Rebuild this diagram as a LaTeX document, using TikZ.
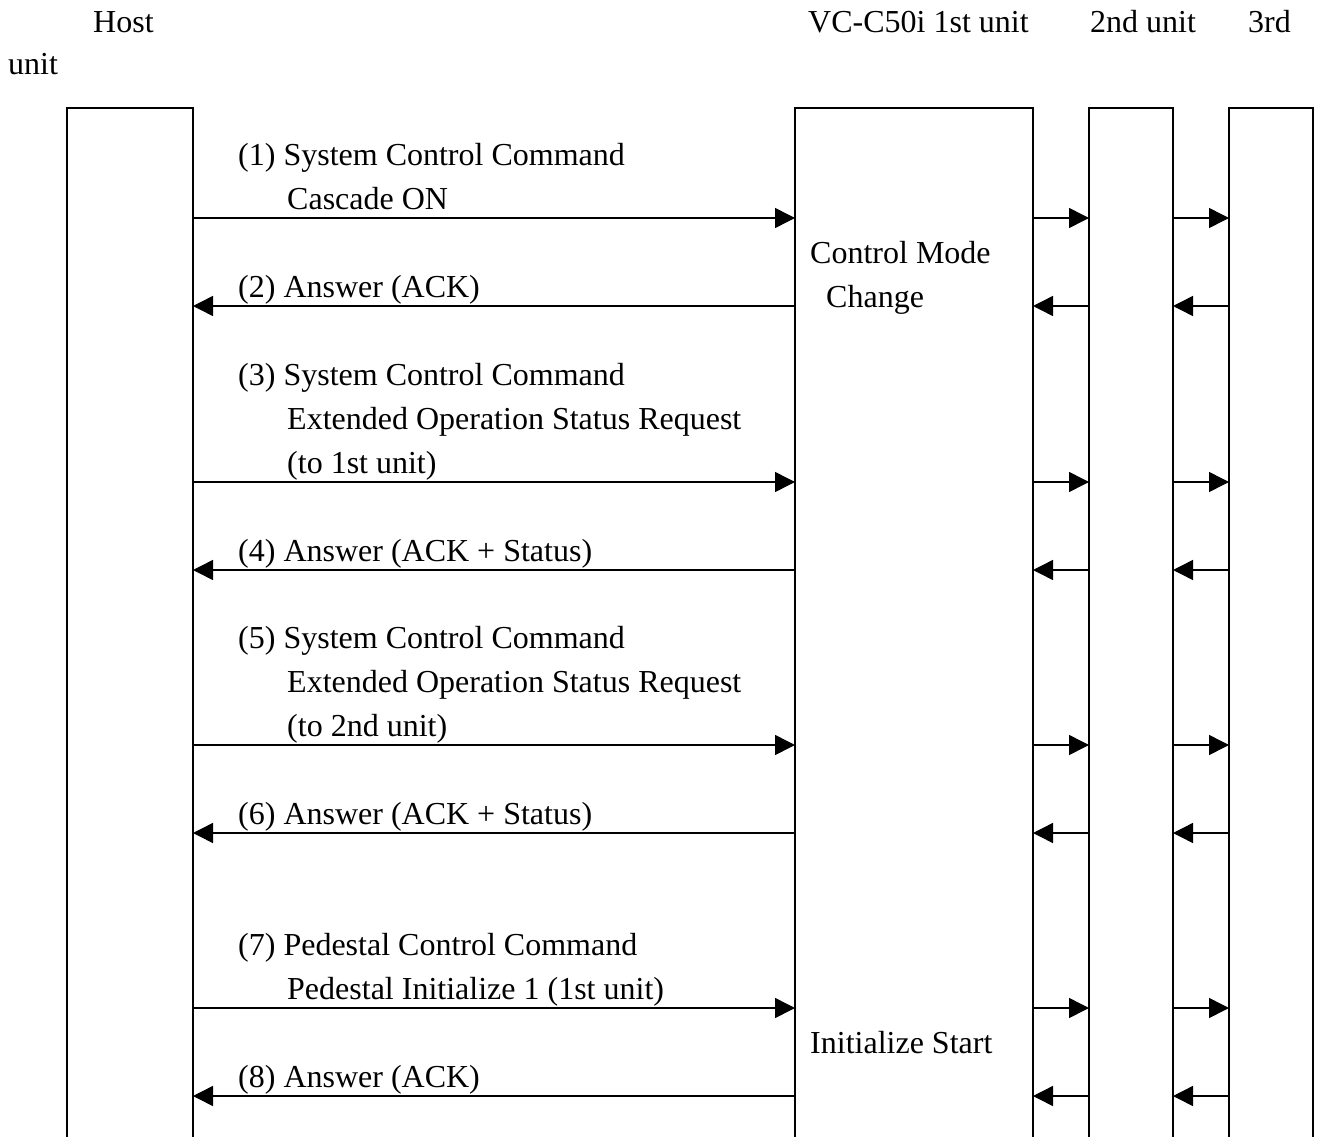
\documentclass[tikz,border=0pt]{standalone}
\usepackage{fontspec}
\setmainfont{Liberation Serif}
\usetikzlibrary{arrows.meta}
\begin{document}
\begin{tikzpicture}[x=1pt,y=-1pt,
  lane/.style={line width=1.6pt},
  msg/.style={line width=1.5pt,-{Triangle[length=20pt,width=20pt]}},
  lbl/.style={anchor=base west,inner sep=0pt,font=\fontsize{32}{44}\selectfont}]
\useasboundingbox (0,0) rectangle (1317,1137);
% lifelines (open at the bottom)
\draw[lane] (67,1137) |- (193,108) -- (193,1137);
\draw[lane] (795,1137) |- (1033,108) -- (1033,1137);
\draw[lane] (1089,1137) |- (1173,108) -- (1173,1137);
\draw[lane] (1229,1137) |- (1313,108) -- (1313,1137);
% anchor coordinates for each message row
\foreach \i/\y in {1/218,2/306,3/482,4/570,5/745,6/833,7/1008,8/1096}{
  \coordinate (hR\i) at (193,\y);
  \coordinate (vL\i) at (795,\y);
  \coordinate (vR\i) at (1033,\y);
  \coordinate (sL\i) at (1089,\y);
  \coordinate (sR\i) at (1173,\y);
  \coordinate (tL\i) at (1229,\y);
}
% requests (downstream)
\foreach \i in {1,3,5,7}{
  \draw[msg] (hR\i) -- (vL\i);
  \draw[msg] (vR\i) -- (sL\i);
  \draw[msg] (sR\i) -- (tL\i);
}
% answers (upstream)
\foreach \i in {2,4,6,8}{
  \draw[msg] (vL\i) -- (hR\i);
  \draw[msg] (sL\i) -- (vR\i);
  \draw[msg] (tL\i) -- (sR\i);
}
% header
\node[lbl] (hHost) at (93,33) {Host};
\node[lbl] (hUnit) at (8,75) {unit};
\node[lbl] (hVC) at (808,33) {VC-C50i 1st unit};
\node[lbl] (h2nd) at (1090,33) {2nd unit};
\node[lbl] (h3rd) at (1248,33) {3rd};
% message labels
\node[lbl] (m1a) at (238,165) {(1) System Control Command};
\node[lbl] (m1b) at (287,209) {Cascade ON};
\node[lbl] (m2) at (238,297) {(2) Answer (ACK)};
\node[lbl] (m3a) at (238,385) {(3) System Control Command};
\node[lbl] (m3b) at (287,429) {Extended Operation Status Request};
\node[lbl] (m3c) at (287,473) {(to 1st unit)};
\node[lbl] (m4) at (238,561) {(4) Answer (ACK + Status)};
\node[lbl] (m5a) at (238,648) {(5) System Control Command};
\node[lbl] (m5b) at (287,692) {Extended Operation Status Request};
\node[lbl] (m5c) at (287,736) {(to 2nd unit)};
\node[lbl] (m6) at (238,824) {(6) Answer (ACK + Status)};
\node[lbl] (m7a) at (238,955) {(7) Pedestal Control Command};
\node[lbl] (m7b) at (287,999) {Pedestal Initialize 1 (1st unit)};
\node[lbl] (m8) at (238,1087) {(8) Answer (ACK)};
% state notes on the 1st unit
\node[lbl] (s1a) at (810,263) {Control Mode};
\node[lbl] (s1b) at (826,307) {Change};
\node[lbl] (s2) at (810,1053) {Initialize Start};
\end{tikzpicture}
\end{document}
